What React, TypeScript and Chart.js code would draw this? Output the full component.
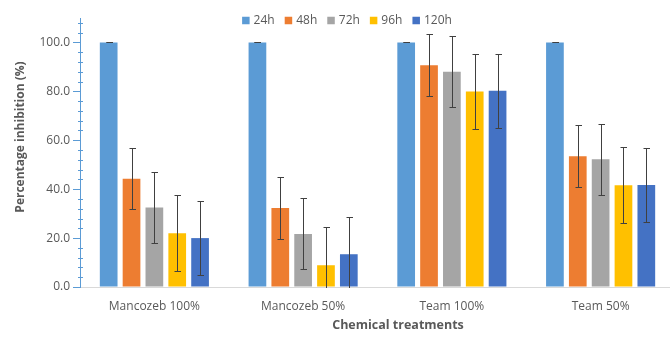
import React, { useEffect, useRef } from 'react';
import { Chart, registerables } from 'chart.js';

Chart.register(...registerables);

// ---- data ----
const categories = ['Mancozeb 100%', 'Mancozeb 50%', 'Team 100%', 'Team 50%'];
const seriesNames = ['24h', '48h', '72h', '96h', '120h'];
const v24 = [100, 100, 100, 100];
const v48 = [44.3, 32.3, 90.7, 53.5];
const v72 = [32.5, 21.7, 88.0, 52.2];
const v96 = [22.0, 8.9, 79.9, 41.6];
const v120 = [20.0, 13.4, 80.2, 41.7];
const e24 = [0, 0, 0, 0];
const e48 = [12.6, 12.7, 12.6, 12.6];
const e72 = [14.6, 14.5, 14.5, 14.5];
const e96 = [15.6, 15.6, 15.3, 15.5];
const e120 = [15.2, 15.3, 15.0, 15.0];
const yMin = 0;
const yMax = 110;
const yMajor = 20;
const yMinor = 4;
const xTitle = 'Chemical treatments';
const yTitle = 'Percentage inhibition (%)';

// ---- styles ----
const colors = ['#5B9BD5', '#ED7D31', '#A5A5A5', '#FFC000', '#4472C4'];
const textColor = '#595959';
const yAxisColor = '#5B9BD5';
const xAxisColor = '#D9D9D9';
const errColor = '#404040';
const FONT = 'Open Sans';

const seriesValues = [v24, v48, v72, v96, v120];
const seriesErrors = [e24, e48, e72, e96, e120];

const errorBarsPlugin = {
  id: 'errorBars',
  afterDatasetsDraw(chart: any) {
    const { ctx, chartArea } = chart;
    const y = chart.scales.y;
    ctx.save();
    ctx.beginPath();
    ctx.rect(chartArea.left, chartArea.top - 2, chartArea.right - chartArea.left, chartArea.bottom - chartArea.top + 3);
    ctx.clip();
    ctx.strokeStyle = errColor;
    ctx.lineWidth = 1;
    chart.data.datasets.forEach((ds: any, i: number) => {
      const meta = chart.getDatasetMeta(i);
      const errs = seriesErrors[i];
      meta.data.forEach((bar: any, j: number) => {
        const v = ds.data[j];
        const e = errs[j];
        const x = Math.round(bar.x) + 0.5;
        const yt = Math.round(y.getPixelForValue(v + e)) + 0.5;
        const yb = Math.round(y.getPixelForValue(v - e)) + 0.5;
        ctx.beginPath();
        ctx.moveTo(x, yt);
        ctx.lineTo(x, yb);
        ctx.moveTo(x - 3, yt);
        ctx.lineTo(x + 3.5, yt);
        ctx.moveTo(x - 3, yb);
        ctx.lineTo(x + 3.5, yb);
        ctx.stroke();
      });
    });
    ctx.restore();
  },
};

const extrasPlugin = {
  id: 'extras',
  afterDraw(chart: any) {
    const { ctx, chartArea } = chart;
    const y = chart.scales.y;
    ctx.save();
    // minor ticks crossing the y axis
    ctx.strokeStyle = yAxisColor;
    ctx.lineWidth = 1;
    const ax = chartArea.left;
    for (let v = yMin; v <= yMax; v += yMinor) {
      if (v % yMajor === 0) continue;
      const py = Math.round(y.getPixelForValue(v)) + 0.5;
      ctx.beginPath();
      ctx.moveTo(ax - 2, py);
      ctx.lineTo(ax + 3, py);
      ctx.stroke();
    }
    // legend
    ctx.font = `12px "${FONT}"`;
    ctx.textBaseline = 'middle';
    ctx.textAlign = 'left';
    const box = 7.5;
    const gap = 4;
    const itemGap = 10;
    const widths = seriesNames.map((n) => ctx.measureText(n).width);
    const total = widths.reduce((a, w) => a + box + gap + w, 0) + itemGap * (seriesNames.length - 1);
    const cx = 347;
    const cy = 20.5;
    let x = cx - total / 2;
    seriesNames.forEach((n, i) => {
      ctx.fillStyle = colors[i];
      ctx.fillRect(x, cy - box / 2, box, box);
      ctx.fillStyle = textColor;
      ctx.fillText(n, x + box + gap, cy + 0.5);
      x += box + gap + widths[i] + itemGap;
    });
    // x axis title
    ctx.font = `bold 12.5px "${FONT}"`;
    ctx.textAlign = 'center';
    ctx.fillStyle = textColor;
    ctx.fillText(xTitle, 398, 325);
    // y axis title
    ctx.save();
    ctx.translate(21, 137);
    ctx.rotate(-Math.PI / 2);
    ctx.font = `bold 12px "${FONT}"`;
    ctx.fillText(yTitle, 0, 0);
    ctx.restore();
    ctx.restore();
  },
};

export default function App() {
  const ref = useRef<HTMLCanvasElement>(null);
  useEffect(() => {
    Chart.defaults.font.family = FONT;
    const chart = new Chart(ref.current as HTMLCanvasElement, {
      type: 'bar',
      data: {
        labels: categories,
        datasets: seriesNames.map((name, i) => ({
          label: name,
          data: seriesValues[i],
          backgroundColor: colors[i],
          borderWidth: 0,
          categoryPercentage: 0.768,
          barPercentage: 0.775,
        })),
      },
      options: {
        responsive: false,
        animation: false,
        devicePixelRatio: 1,
        layout: { padding: { top: 18, right: 1, left: 0, bottom: 0 } },
        plugins: {
          legend: { display: false },
          tooltip: { enabled: false },
        },
        scales: {
          x: {
            grid: { display: false, drawTicks: false },
            border: { display: true, color: xAxisColor, width: 1 },
            ticks: { color: textColor, font: { family: FONT, size: 12 }, padding: 12 },
            afterFit: (s: any) => {
              s.height = 57;
            },
          },
          y: {
            min: yMin,
            max: yMax,
            grid: {
              drawOnChartArea: false,
              drawTicks: true,
              tickLength: 7,
              tickColor: (c: any) => (c.tick && c.tick.value % yMajor === 0 ? yAxisColor : 'rgba(0,0,0,0)'),
            },
            border: { display: true, color: yAxisColor, width: 1 },
            ticks: {
              stepSize: yMinor,
              autoSkip: false,
              padding: 3,
              color: textColor,
              font: { family: FONT, size: 12 },
              callback: (v: any) => (Number(v) % yMajor === 0 ? Number(v).toFixed(1) : ''),
            },
            title: { display: false, text: yTitle },
            afterFit: (s: any) => {
              s.width = 80;
            },
          },
        },
      },
      plugins: [errorBarsPlugin, extrasPlugin],
    } as any);
    return () => chart.destroy();
  }, []);
  return (
    <div style={{ position: 'fixed', left: 0, top: 0, width: 670, height: 344, overflow: 'hidden', background: '#fff' }}>
      <canvas ref={ref} width={676} height={344} style={{ display: 'block', width: 676, height: 344 }} />
    </div>
  );
}
